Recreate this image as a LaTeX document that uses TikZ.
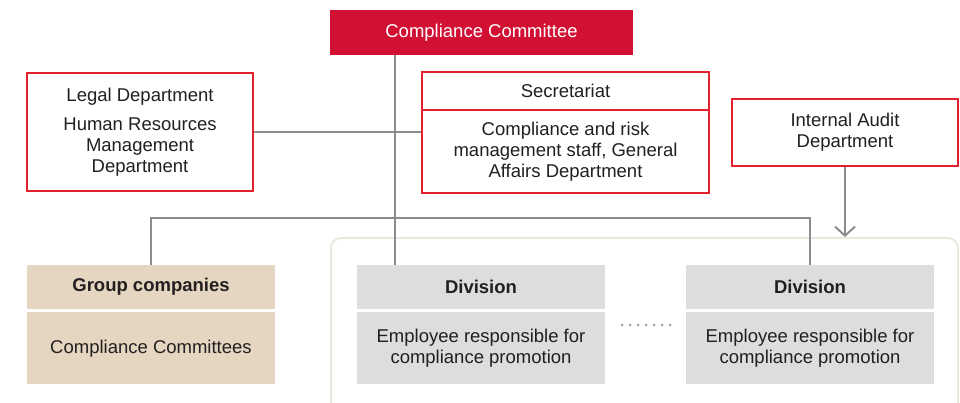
\documentclass[tikz,border=0pt]{standalone}
\usepackage{fontspec}
\setmainfont{Liberation Sans}
\usetikzlibrary{positioning,calc,arrows.meta}
\definecolor{Crimson}{HTML}{D21033}
\definecolor{CrimsonLine}{HTML}{E4202F}
\definecolor{Ink}{HTML}{231F20}
\definecolor{Wire}{HTML}{8C8C8C}
\definecolor{Sand}{HTML}{E5D6C2}
\definecolor{Stone}{HTML}{DCDDDD}
\definecolor{Frame}{HTML}{ECE8DF}

\begin{document}
\begin{tikzpicture}[
			x=1pt, y=-1pt,
			font=\fontsize{18.5}{21}\selectfont,
			text=Ink,
			redbox/.style={draw=CrimsonLine, line width=1.5pt, fill=white, align=center, inner sep=0pt},
			headbox/.style={minimum width=248pt, minimum height=44pt, inner sep=0pt, font=\fontsize{18.5}{21}\selectfont\bfseries},
			bodybox/.style={minimum width=248pt, minimum height=72pt, inner sep=0pt, align=center},
			wire/.style={draw=Wire, line width=2pt}
			]
			\useasboundingbox (0,0) rectangle (960,403);
			
			% Division frame
			\begin{scope}
			\clip (0,0) rectangle (960,403);
			\draw[Frame, line width=2pt, rounded corners=10pt] (331,238) rectangle (958,430);
			\end{scope}
			
			% Compliance Committee
			\node[
			fill=Crimson,
			text=white,
			minimum width=303pt,
			minimum height=45pt,
			inner sep=0pt
			]
			(committee) at (481.5,32.5)
			{Compliance Committee};
			
			% Legal / HR
			\node[
			redbox,
			minimum width=226pt,
			minimum height=118pt
			]
			(legal) at (140,132)
			{Legal Department\\[8pt]
				Human Resources\\Management\\Department};
			
			% Secretariat
			\node[
			redbox,
			minimum width=287pt,
			minimum height=38pt
			]
			(secretariat) at (565.5,91)
			{Secretariat};
			
			\node[
			redbox,
			minimum width=287pt,
			minimum height=83pt,
			below=-1.5pt of secretariat
			]
			(staff)
			{Compliance and risk\\management staff, General\\Affairs Department};
			
			% Internal Audit
			\node[
			redbox,
			minimum width=226pt,
			minimum height=67pt
			]
			(audit) at (845,132.5)
			{Internal Audit\\Department};
			
			% Group companies
			\node[headbox, fill=Sand] (grouphead) at (151,287) {Group companies};
			\node[bodybox, fill=Sand, below=3pt of grouphead] (groupbody) {Compliance Committees};
			
			% Divisions
			\node[headbox, fill=Stone] (divhead1) at (481,287) {Division};
			\node[bodybox, fill=Stone, below=3pt of divhead1] (divbody1) {Employee responsible for\\compliance promotion};
			
			\node[headbox, fill=Stone] (divhead2) at (810,287) {Division};
			\node[bodybox, fill=Stone, below=3pt of divhead2] (divbody2) {Employee responsible for\\compliance promotion};
			
			% dots between divisions
			\foreach \i in {0,...,6}
			\fill[Wire!80] (622+8*\i,325) circle (1.5pt);
			
			% connectors
			\coordinate (trunk) at ($(committee.south west)!0.215!(committee.south east)$);
			\draw[wire] (trunk) -- (trunk |- divhead1.north);
			\draw[wire] (legal.east) -- (legal.east -| staff.west);
			\draw[wire] (grouphead.north) -- ++(0,-47) -| (divhead2.north);
			\coordinate (frametop) at (audit.south |- 0,237);
			\draw[wire, -{Straight Barb[length=9pt, width=20pt]}] (audit.south) -- (frametop);
			
		\end{tikzpicture}
\end{document}
